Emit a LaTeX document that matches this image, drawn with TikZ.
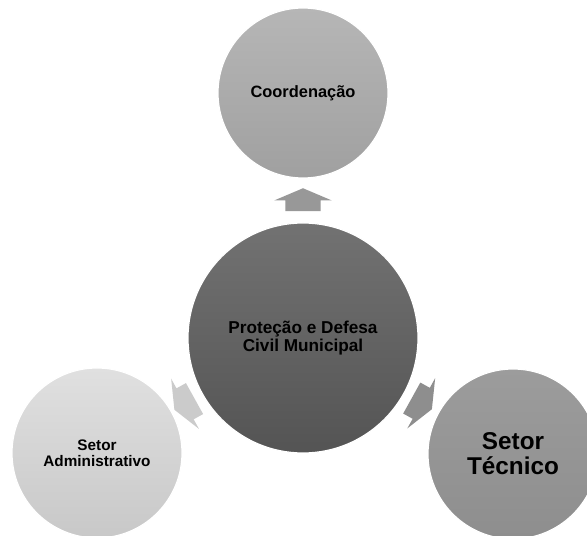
\documentclass[tikz,border=0pt]{standalone}
\usepackage{fontspec}
\setmainfont{Liberation Sans}
\usepackage{tikz}
\usetikzlibrary{shapes.arrows,calc}
\definecolor{centroA}{RGB}{114, 114, 114}
\definecolor{centroB}{RGB}{84, 84, 84}
\definecolor{coordA}{RGB}{182, 182, 182}
\definecolor{coordB}{RGB}{160, 160, 160}
\definecolor{admA}{RGB}{224, 224, 224}
\definecolor{admB}{RGB}{200, 200, 200}
\definecolor{tecA}{RGB}{156, 156, 156}
\definecolor{tecB}{RGB}{142, 142, 142}

\tikzset{
  bolha/.style={circle, draw=white, line width=1.2pt, minimum size=170pt,
    inner sep=0pt, align=center, text=black},
  seta/.style={single arrow, draw=none, minimum height=23pt, minimum width=57pt,
    inner xsep=0pt, inner ysep=17.5pt, single arrow head extend=11pt,
    single arrow tip angle=134},
}

\begin{document}
\begin{tikzpicture}[x=1pt, y=1pt]
        \useasboundingbox (0,0) rectangle (587,536);
        \fill[white] (0,0) rectangle (587,536);

        % circulo central
        \node[bolha, minimum size=230pt, top color=centroA, bottom color=centroB,
          font=\bfseries\fontsize{17.2}{17.7}\selectfont] (defesa) at (303,198)
          {Proteção e Defesa\\Civil Municipal};

        % circulos externos
        \node[bolha, top color=coordA, bottom color=coordB,
          font=\bfseries\fontsize{16.4}{17}\selectfont] (coord) at (303,443)
          {Coordenação};
        \node[bolha, top color=admA, bottom color=admB,
          font=\bfseries\fontsize{15.3}{16}\selectfont] (adm) at (97,83)
          {Setor\\Administrativo};
        \node[bolha, top color=tecA, bottom color=tecB,
          font=\bfseries\fontsize{24.3}{25}\selectfont] (tec) at (513,82)
          {Setor\\Técnico};

        % setas
        \node[seta, rotate=90, fill=coordB!95!black] (setaCoord)
          at ($(defesa.center)!134.5pt!(coord.center)$) {};
        \node[seta, rotate=209, fill=admB!95!white] (setaAdm)
          at ($(defesa.center)!132pt!(adm.center)$) {};
        \node[seta, rotate=-29, fill=tecB] (setaTec)
          at ($(defesa.center)!132pt!(tec.center)$) {};
\end{tikzpicture}
\end{document}
